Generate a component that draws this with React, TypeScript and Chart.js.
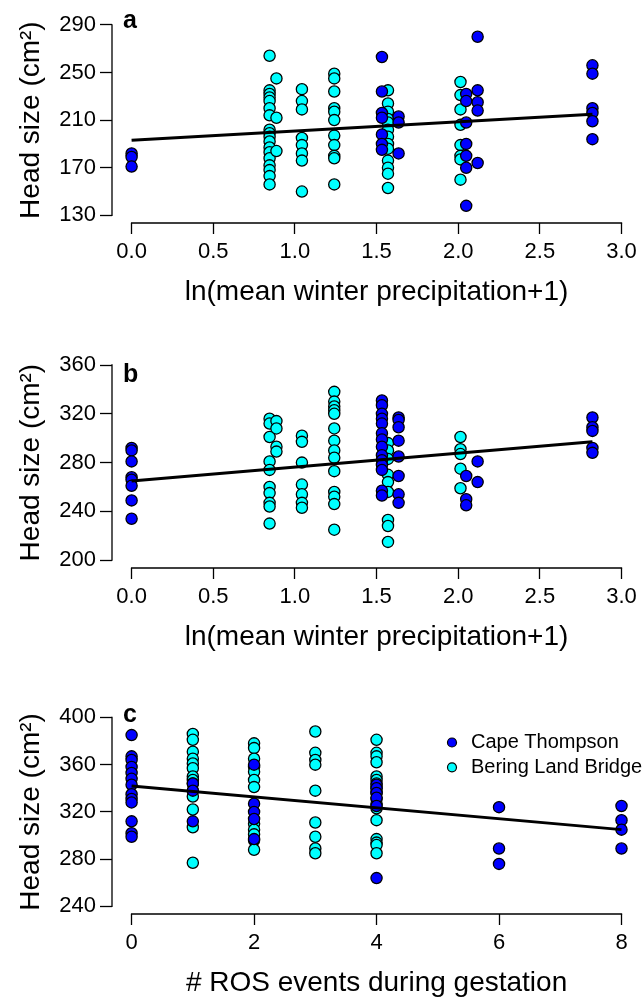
import React, { useEffect, useRef } from "react";
import { Chart, registerables } from "chart.js";

Chart.register(...registerables);

const FONT = "'Liberation Sans', Arial, Helvetica, sans-serif";

// ---------------- Data ----------------
const seriesLabels = ["Cape Thompson", "Bering Land Bridge"];
const seriesColors = ["#0000FF", "#00FFFF"];

const precipTicks = [0, 0.5, 1, 1.5, 2, 2.5, 3];
const precipTickLabels = ["0.0", "0.5", "1.0", "1.5", "2.0", "2.5", "3.0"];
const rosTicks = [0, 2, 4, 6, 8];
const rosTickLabels = ["0", "2", "4", "6", "8"];
const headTicksA = [130, 170, 210, 250, 290];
const headTicksB = [200, 240, 280, 320, 360];
const headTicksC = [240, 280, 320, 360, 400];

type Col = [number, number[]];

// Panel a: head size vs ln(mean winter precipitation + 1)
const aCape: Col[] = [
  [0, [182, 179, 171]],
  [1.533, [263, 234, 216, 212, 198, 190, 185]],
  [1.635, [213, 208, 182]],
  [2.049, [232, 226, 208, 190, 180, 170, 138]],
  [2.119, [280, 235, 225, 218, 174]],
  [2.822, [256, 249, 220, 216, 209, 194]],
];
const aBering: Col[] = [
  [0.845, [264, 235, 232, 229, 226, 220, 214, 202, 199, 196, 192, 187, 183, 178, 172, 168, 163, 156]],
  [0.887, [245, 212, 184]],
  [1.043, [236, 226, 219, 195, 189, 182, 176, 150]],
  [1.241, [249, 245, 234, 220, 217, 210, 197, 189, 180, 178, 156]],
  [1.57, [235, 224, 217, 211, 208, 202, 196, 190, 186, 176, 170, 165, 153]],
  [2.014, [242, 231, 219, 206, 189, 180, 177, 160]],
];
const aFitX = [0, 2.822];
const aFitY = [193, 215];

// Panel b
const bCape: Col[] = [
  [0, [292, 290, 281, 268, 266, 261, 249, 234]],
  [1.533, [331, 327, 320, 316, 312, 304, 299, 293, 286, 282, 278, 274, 257, 253]],
  [1.635, [317, 315, 309, 298, 285, 269, 254, 247]],
  [2.049, [269, 250, 245]],
  [2.119, [281, 264]],
  [2.822, [317, 309, 306, 292, 288]],
];
const bBering: Col[] = [
  [0.845, [316, 312, 301, 281, 274, 260, 255, 247, 244, 230]],
  [0.887, [314, 308, 293, 289]],
  [1.043, [302, 297, 280, 262, 254, 247, 243]],
  [1.241, [338, 330, 326, 323, 320, 308, 298, 290, 284, 273, 256, 252, 246, 225]],
  [1.57, [296, 290, 283, 270, 264, 256, 233, 228, 215]],
  [2.014, [301, 291, 287, 275, 259]],
];
const bFitX = [0, 2.822];
const bFitY = [265, 297];

// Panel c: head size vs # ROS events during gestation
const cCape: Col[] = [
  [0, [385, 367, 364, 358, 353, 348, 343, 335, 331, 328, 312, 302, 299]],
  [1, [344, 338, 312]],
  [2, [360, 327, 320, 314, 297]],
  [4, [343, 340, 336, 332, 325, 264]],
  [6, [324, 289, 276]],
  [8, [325, 313, 305, 289]],
];
const cBering: Col[] = [
  [1, [386, 381, 371, 365, 361, 357, 350, 347, 344, 338, 333, 322, 307, 277]],
  [2, [378, 374, 365, 358, 354, 347, 341, 310, 305, 301, 296, 288]],
  [3, [388, 370, 364, 360, 338, 311, 299, 289, 285]],
  [4, [381, 370, 367, 362, 350, 347, 344, 340, 336, 331, 327, 323, 313, 297, 294, 292, 285]],
];
const cFitX = [0, 8];
const cFitY = [342, 305];

const yTitle = "Head size (cm²)";
const precipTitle = "ln(mean winter precipitation+1)";
const rosTitle = "# ROS events during gestation";

// ---------------- Layout ----------------
const CANVAS_W = 648;
const Y_AXIS_W = 112;
const X_AXIS_H = 86;

const panels = [
  {
    letter: "a", xTitle: precipTitle, xTicks: precipTicks, xLabels: precipTickLabels, yTicks: headTicksA,
    cape: aCape, bering: aBering, fitX: aFitX, fitY: aFitY, legend: false,
    lay: { top: 0, boxTop: 12.2, boxBottom: 222.8, boxRight: 646, letterY: 28, legendX: 0, legendY: 0 },
  },
  {
    letter: "b", xTitle: precipTitle, xTicks: precipTicks, xLabels: precipTickLabels, yTicks: headTicksB,
    cape: bCape, bering: bBering, fitX: bFitX, fitY: bFitY, legend: false,
    lay: { top: 330, boxTop: 357.2, boxBottom: 567.8, boxRight: 646, letterY: 382, legendX: 0, legendY: 0 },
  },
  {
    letter: "c", xTitle: rosTitle, xTicks: rosTicks, xLabels: rosTickLabels, yTicks: headTicksC,
    cape: cCape, bering: cBering, fitX: cFitX, fitY: cFitY, legend: true,
    lay: { top: 660, boxTop: 709.8, boxBottom: 913.2, boxRight: 644.5, letterY: 722, legendX: 452, legendY: 742.5 },
  },
];

const toPoints = (cols: Col[]) => cols.flatMap(([x, ys]) => ys.map((y) => ({ x, y })));

const decorPlugin = {
  id: "panelDecor",
  afterDraw(chart: any, _args: any, opts: any) {
    const { ctx, chartArea } = chart;
    const x = chart.scales.x;
    const y = chart.scales.y;
    ctx.save();
    ctx.strokeStyle = "#000";
    ctx.lineWidth = 1.3;
    ctx.lineCap = "square";
    const xt = opts.xTicks;
    const yt = opts.yTicks;
    ctx.beginPath();
    ctx.moveTo(x.getPixelForValue(xt[0]), chartArea.bottom);
    ctx.lineTo(x.getPixelForValue(xt[xt.length - 1]), chartArea.bottom);
    ctx.moveTo(chartArea.left, y.getPixelForValue(yt[0]));
    ctx.lineTo(chartArea.left, y.getPixelForValue(yt[yt.length - 1]));
    ctx.stroke();

    ctx.fillStyle = "#000";
    ctx.font = `bold 25px ${FONT}`;
    ctx.textAlign = "left";
    ctx.textBaseline = "alphabetic";
    ctx.fillText(opts.letter, chartArea.left + 11, opts.letterY);

    if (opts.legend) {
      const order = [1, 2];
      order.forEach((di, i) => {
        const ds = chart.data.datasets[di];
        const cy = opts.legendY + i * 24.8;
        ctx.beginPath();
        ctx.arc(opts.legendX, cy, 4.5, 0, Math.PI * 2);
        ctx.fillStyle = ds.backgroundColor;
        ctx.fill();
        ctx.lineWidth = 1.2;
        ctx.strokeStyle = "#000";
        ctx.stroke();
        ctx.fillStyle = "#000";
        ctx.font = `20px ${FONT}`;
        ctx.textBaseline = "middle";
        ctx.fillText(ds.label, opts.legendX + 19, cy);
      });
    }
    ctx.restore();
  },
};

function buildChart(canvas: HTMLCanvasElement, p: (typeof panels)[number]) {
  const lay = p.lay;
  const h = Math.ceil(lay.boxBottom + X_AXIS_H - lay.top);
  canvas.width = CANVAS_W;
  canvas.height = h;
  const xPad = 0.04 * (p.xTicks[p.xTicks.length - 1] - p.xTicks[0]);
  const yPad = 0.04 * (p.yTicks[p.yTicks.length - 1] - p.yTicks[0]);
  const tickFont = { family: FONT, size: 22 };
  const titleFont = { family: FONT, size: 28 };
  const pointStyle = { borderColor: "#000", borderWidth: 1.3, pointRadius: 5.6, pointHoverRadius: 5.6 };

  return new Chart(canvas, {
    type: "scatter",
    data: {
      datasets: [
        {
          type: "line",
          label: "fit",
          data: p.fitX.map((x, i) => ({ x, y: p.fitY[i] })),
          borderColor: "#000",
          borderWidth: 3,
          pointRadius: 0,
          showLine: true,
          fill: false,
          tension: 0,
          order: 0,
        } as any,
        {
          label: seriesLabels[0],
          data: toPoints(p.cape),
          backgroundColor: seriesColors[0],
          pointBackgroundColor: seriesColors[0],
          ...pointStyle,
          order: 1,
        },
        {
          label: seriesLabels[1],
          data: toPoints(p.bering),
          backgroundColor: seriesColors[1],
          pointBackgroundColor: seriesColors[1],
          ...pointStyle,
          order: 2,
        },
      ],
    },
    options: {
      responsive: false,
      animation: false,
      devicePixelRatio: 1,
      events: [],
      layout: {
        padding: { top: lay.boxTop - lay.top, left: 0, right: CANVAS_W - lay.boxRight, bottom: 0 },
      },
      plugins: {
        legend: { display: false },
        tooltip: { enabled: false },
        panelDecor: {
          xTicks: p.xTicks, yTicks: p.yTicks, letter: p.letter, letterY: lay.letterY - lay.top,
          legend: p.legend, legendX: lay.legendX, legendY: lay.legendY - lay.top,
        },
      } as any,
      scales: {
        x: {
          type: "linear",
          min: p.xTicks[0] - xPad,
          max: p.xTicks[p.xTicks.length - 1] + xPad,
          afterBuildTicks: (s: any) => {
            s.ticks = p.xTicks.map((v) => ({ value: v }));
          },
          afterFit: (s: any) => {
            s.height = X_AXIS_H;
          },
          ticks: {
            callback: (_v: any, i: number) => p.xLabels[i],
            font: tickFont,
            color: "#000",
            padding: 5,
            maxRotation: 0,
            autoSkip: false,
          },
          grid: { drawOnChartArea: false, drawTicks: true, tickLength: 11, tickWidth: 1.3, tickColor: "#000" },
          border: { display: false },
          title: { display: true, text: p.xTitle, font: titleFont, color: "#000", padding: { top: 0, bottom: 0 } },
        },
        y: {
          type: "linear",
          min: p.yTicks[0] - yPad,
          max: p.yTicks[p.yTicks.length - 1] + yPad,
          afterBuildTicks: (s: any) => {
            s.ticks = p.yTicks.map((v) => ({ value: v }));
          },
          afterFit: (s: any) => {
            s.width = Y_AXIS_W;
          },
          ticks: {
            callback: (v: any) => String(v),
            font: tickFont,
            color: "#000",
            padding: 4,
            autoSkip: false,
          },
          grid: { drawOnChartArea: false, drawTicks: true, tickLength: 12, tickWidth: 1.3, tickColor: "#000" },
          border: { display: false },
          title: { display: true, text: yTitle, font: titleFont, color: "#000", padding: { top: 14, bottom: 0 } },
        },
      },
    },
    plugins: [decorPlugin],
  } as any);
}

export default function App() {
  const refs = useRef<(HTMLCanvasElement | null)[]>([]);

  useEffect(() => {
    const charts = panels.map((p, i) => buildChart(refs.current[i] as HTMLCanvasElement, p));
    return () => charts.forEach((c) => c.destroy());
  }, []);

  return (
    <div
      style={{
        position: "absolute",
        left: 0,
        top: 0,
        width: 643,
        height: 999,
        overflow: "hidden",
        background: "#fff",
      }}
    >
      {panels.map((p, i) => (
        <canvas
          key={p.letter}
          ref={(el) => {
            refs.current[i] = el;
          }}
          style={{ position: "absolute", left: 0, top: p.lay.top, display: "block" }}
        />
      ))}
    </div>
  );
}
